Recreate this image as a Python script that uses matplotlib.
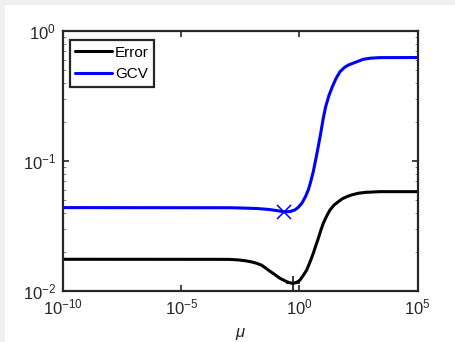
import matplotlib
matplotlib.use("Agg")
import matplotlib.pyplot as plt
from matplotlib.patches import Rectangle
from matplotlib.ticker import FixedLocator, NullLocator, LogFormatterMathtext, LogLocator

# ---- data ----
log_mu_err = [-10, -3.3, -2.94, -2.6, -2.3, -2.0, -1.809, -1.6, -1.45, -1.3, -1.119, -1.0,
              -0.823, -0.7, -0.540, -0.4, -0.261, -0.1, 0.022, 0.15, 0.306, 0.45, 0.585,
              0.7, 0.797, 0.9, 1.008, 1.15, 1.291, 1.45, 1.642, 1.8, 1.997, 2.2, 2.488,
              2.8, 3.406, 5]
err = [0.01754, 0.01752, 0.0175, 0.01735, 0.0171, 0.0167, 0.01633, 0.0158, 0.0151, 0.0144,
       0.01368, 0.0132, 0.01252, 0.0122, 0.0118, 0.01155, 0.01145, 0.0117, 0.01215,
       0.0131, 0.0145, 0.0168, 0.0195, 0.0226, 0.0254, 0.0292, 0.0332, 0.0377, 0.042,
       0.0456, 0.0486, 0.0511, 0.0531, 0.0548, 0.0565, 0.0574, 0.0581, 0.0581]

log_mu_gcv = [-10, -2.94, -2.3, -1.8, -1.3, -0.9, -0.654, -0.4, -0.2, -0.05, 0.107, 0.25,
              0.372, 0.474, 0.585, 0.685, 0.79, 0.897, 1.0, 1.108, 1.25, 1.391, 1.55,
              1.714, 1.9, 2.065, 2.319, 2.687, 3.0, 3.406, 5]
gcv = [0.0438, 0.0437, 0.0434, 0.0431, 0.0424, 0.0414, 0.0407, 0.0408, 0.0420, 0.0440,
       0.0475, 0.0530, 0.0598, 0.0690, 0.0830, 0.102, 0.128, 0.163, 0.210, 0.262, 0.320,
       0.373, 0.433, 0.486, 0.524, 0.547, 0.570, 0.605, 0.618, 0.624, 0.625]

gcv_min_logmu = -0.654
gcv_min_val = 0.0407
err_min_logmu = -0.261
err_min_val = 0.01145

series_labels = ["Error", "GCV"]
x_tick_exps = [-10, -5, 0, 5]
y_tick_exps = [-2, -1, 0]

plt.rcParams['font.family'] = ['Liberation Sans', 'DejaVu Sans']
plt.rcParams['mathtext.fontset'] = 'custom'
plt.rcParams['mathtext.rm'] = 'Liberation Sans'
plt.rcParams['mathtext.it'] = 'Liberation Sans:italic'
plt.rcParams['mathtext.bf'] = 'Liberation Sans:bold'

W, H = 456, 342
fig = plt.figure(figsize=(W / 100, H / 100), dpi=100, facecolor='white')
# grey strips (top and left) as in the reference screenshot
fig.patches.append(Rectangle((0, 1 - 5 / H), 1, 5 / H, transform=fig.transFigure,
                             facecolor='#f0f0f0', edgecolor='none', zorder=0))
fig.patches.append(Rectangle((0, 0), 5 / W, 1, transform=fig.transFigure,
                             facecolor='#f0f0f0', edgecolor='none', zorder=0))

ax = fig.add_axes([63 / W, (H - 291) / H, 354.7 / W, 260 / H])

mu_err = [10.0 ** v for v in log_mu_err]
mu_gcv = [10.0 ** v for v in log_mu_gcv]
ax.plot(mu_err, err, color='black', lw=2.2, label=series_labels[0],
        solid_capstyle='round', solid_joinstyle='round')
ax.plot(mu_gcv, gcv, color=(0, 0, 1), lw=2.2, label=series_labels[1],
        solid_capstyle='round', solid_joinstyle='round')
ax.plot([10.0 ** gcv_min_logmu], [gcv_min_val], marker='x', color=(0, 0, 1), ms=9.5, mew=1.1)
ax.plot([10.0 ** err_min_logmu], [err_min_val], marker='+', color='black', ms=10, mew=1.1)

ax.set_xscale('log')
ax.set_yscale('log')
ax.set_xlim(1e-10, 1e5)
ax.set_ylim(1e-2, 1e0)
ax.xaxis.set_major_locator(FixedLocator([10.0 ** e for e in x_tick_exps]))
ax.xaxis.set_minor_locator(NullLocator())
ax.xaxis.set_major_formatter(LogFormatterMathtext())
ax.yaxis.set_major_locator(FixedLocator([10.0 ** e for e in y_tick_exps]))
ax.yaxis.set_minor_locator(LogLocator(base=10, subs=[2, 3, 4, 5, 6, 7, 8, 9]))
ax.yaxis.set_major_formatter(LogFormatterMathtext())

for s in ax.spines.values():
    s.set_linewidth(1.6)
    s.set_color('#262626')
ax.tick_params(which='major', direction='in', length=4, width=1.2, color='#262626',
               top=True, right=True, labelsize=12, pad=5, labelcolor='#262626')
ax.tick_params(which='minor', direction='in', length=2, width=0.5, color='#555555',
               top=True, right=True)

ax.set_xlabel(r'$\mu$', fontsize=12, color='#262626')
ax.xaxis.set_label_coords(0.5, -0.135)

leg = ax.legend(loc='upper left', bbox_to_anchor=(0.019, 0.964), borderaxespad=0,
                fontsize=11, handlelength=2.4, handletextpad=0.2, labelspacing=0.5,
                borderpad=0.35, fancybox=False, framealpha=1)
leg.get_frame().set_edgecolor('#262626')
leg.get_frame().set_linewidth(1.6)

fig.savefig('out.png', dpi=100, facecolor=fig.get_facecolor())
